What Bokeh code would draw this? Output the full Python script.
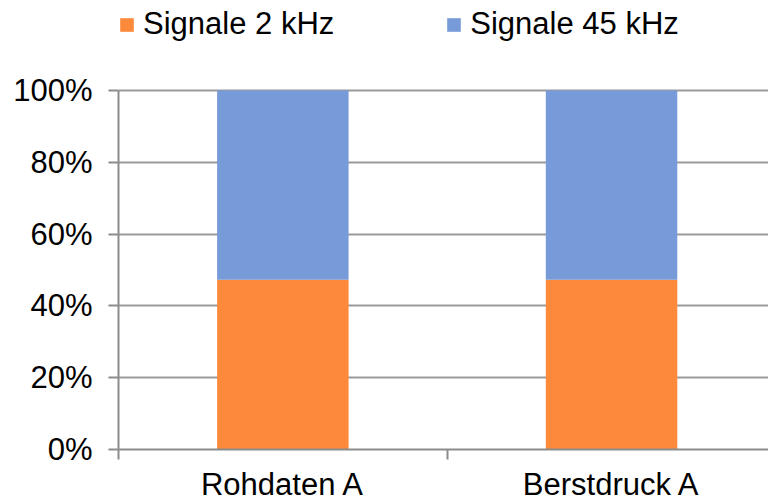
from bokeh.plotting import figure
from bokeh.models import (ColumnDataSource, FixedTicker, Legend, LegendItem,
                          NumeralTickFormatter, Range1d)
from bokeh.embed import file_html
from bokeh.resources import INLINE

categories = ["Rohdaten A", "Berstdruck A"]
series_names = ["Signale 2 kHz", "Signale 45 kHz"]
signal_2khz = [0.473, 0.473]
signal_45khz = [0.527, 0.527]
y_ticks = [0, 0.2, 0.4, 0.6, 0.8, 1.0]
colors = ["#FD8A3A", "#779AD8"]

pos = [i + 0.5 for i in range(len(categories))]
src = ColumnDataSource(dict(x=pos, s1=signal_2khz, s2=signal_45khz))

FONT = "Liberation Sans"
# frame spans the whole height above the x-axis; the space above 100% holds the legend
p = figure(width=768, height=504, output_backend="svg", toolbar_location=None,
           x_range=Range1d(0, 1.9775), y_range=Range1d(0, 1.2507),
           min_border_left=118, min_border_right=0, min_border_top=0,
           min_border_bottom=55)
p.outline_line_color = None

r = p.vbar_stack(["s1", "s2"], x="x", width=0.4, source=src, color=colors,
                 line_color=None)

# axes
xa = p.xaxis[0]
xa.ticker = FixedTicker(ticks=pos, minor_ticks=[0, 1, 2])
xa.major_label_overrides = {p_: c for p_, c in zip(pos, categories)}
xa.major_tick_out = 0
xa.major_tick_in = 0
xa.minor_tick_out = 10
xa.minor_tick_in = 0
xa.minor_tick_line_color = "#8C8C8C"
xa.minor_tick_line_width = 2
xa.axis_line_color = "#8C8C8C"
xa.axis_line_width = 2
xa.major_label_text_font = FONT
xa.major_label_text_font_size = "31px"
xa.major_label_text_color = "black"
xa.major_label_text_line_height = 1.0
xa.major_label_standoff = 7

ya = p.yaxis[0]
ya.ticker = FixedTicker(ticks=y_ticks)
ya.bounds = (0, 1)
ya.formatter = NumeralTickFormatter(format="0%")
ya.major_tick_out = 10
ya.major_tick_in = 0
ya.minor_tick_line_color = None
ya.major_tick_line_color = "#8C8C8C"
ya.major_tick_line_width = 2
ya.axis_line_color = "#8C8C8C"
ya.axis_line_width = 2
ya.major_label_text_font = FONT
ya.major_label_text_font_size = "31px"
ya.major_label_text_color = "black"
ya.major_label_standoff = 16

p.xgrid.grid_line_color = None
p.ygrid.ticker = FixedTicker(ticks=y_ticks)
p.ygrid.grid_line_color = "#9A9A9A"
p.ygrid.grid_line_width = 2

legend = Legend(items=[LegendItem(label=n, renderers=[rr]) for n, rr in zip(series_names, r)],
                orientation="horizontal", location=(0, 407))
legend.glyph_width = 17
legend.glyph_height = 17
legend.label_text_font = FONT
legend.label_text_font_size = "31px"
legend.label_text_color = "black"
legend.label_standoff = 8
legend.spacing = 111
legend.padding = 0
legend.margin = 0
legend.border_line_color = None
legend.background_fill_alpha = 0
p.add_layout(legend)

open("out.html", "w").write(file_html(p, INLINE))
